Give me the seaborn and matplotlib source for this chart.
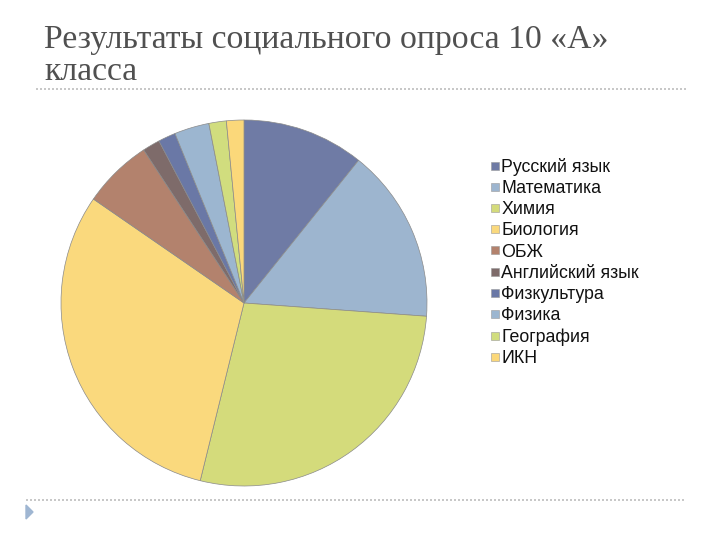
import matplotlib
matplotlib.use("Agg")
import matplotlib.pyplot as plt
import seaborn as sns
from matplotlib.lines import Line2D
from matplotlib.patches import Polygon

subjects = ["Русский язык", "Математика", "Химия", "Биология", "ОБЖ",
            "Английский язык", "Физкультура", "Физика", "География", "ИКН"]
votes = [7, 10, 18, 20, 4, 1, 1, 2, 1, 1]
colors = ["#6F7BA5", "#9DB5CF", "#D4DB7B", "#FAD97D", "#B3826D",
          "#7E6B6A", "#6A78A6", "#9CB6D0", "#D1DD7E", "#FBD87A"]
title_lines = ["Результаты социального опроса 10 «А»", "класса"]

sns.set_style("white")
plt.rcParams['font.family'] = ['Liberation Sans', 'DejaVu Sans']

fig = plt.figure(figsize=(7.2, 5.4), dpi=100)

# title, two lines
for i, line in enumerate(title_lines):
    fig.text(44 / 720, 1 - (48 + 32 * i) / 540, line,
             family="Liberation Serif", fontsize=24.3, color="#505050",
             va="baseline", ha="left")

# dotted separators
fig.add_artist(Line2D([36 / 720, 686 / 720], [1 - 89 / 540] * 2, color="#BDBDBD",
                      lw=1.2, ls=(0, (1.2, 1.2))))
fig.add_artist(Line2D([26 / 720, 686 / 720], [1 - 500 / 540] * 2, color="#BDBDBD",
                      lw=1.2, ls=(0, (1.2, 1.2))))
fig.add_artist(Polygon([[26 / 720, 1 - 505 / 540], [33 / 720, 1 - 512 / 540],
                        [26 / 720, 1 - 519 / 540]], closed=True,
                       color="#9FB6D2", transform=fig.transFigure))

ax = fig.add_axes([61 / 720, 54 / 540, 366 / 720, 366 / 540])
wedges, _ = ax.pie(votes, colors=colors, startangle=90, counterclock=False,
                   radius=1.0, wedgeprops=dict(edgecolor="#8A8A8A", linewidth=0.5))
ax.set_aspect("equal")
ax.set_xlim(-1.0, 1.0)
ax.set_ylim(-1.0, 1.0)
ax.axis("off")

handles = [Line2D([], [], marker="s", ls="", markersize=6, markerfacecolor=c,
                  markeredgecolor="#9A9A9A", markeredgewidth=0.4) for c in colors]
fig.legend(handles, subjects, loc="upper left",
           bbox_to_anchor=(481 / 720, 1 - 149 / 540), frameon=False,
           fontsize=12.8, handlelength=0.55, handletextpad=0.1,
           labelspacing=0.235, borderpad=0, labelcolor="#111111")

fig.savefig("out.png", dpi=100)
